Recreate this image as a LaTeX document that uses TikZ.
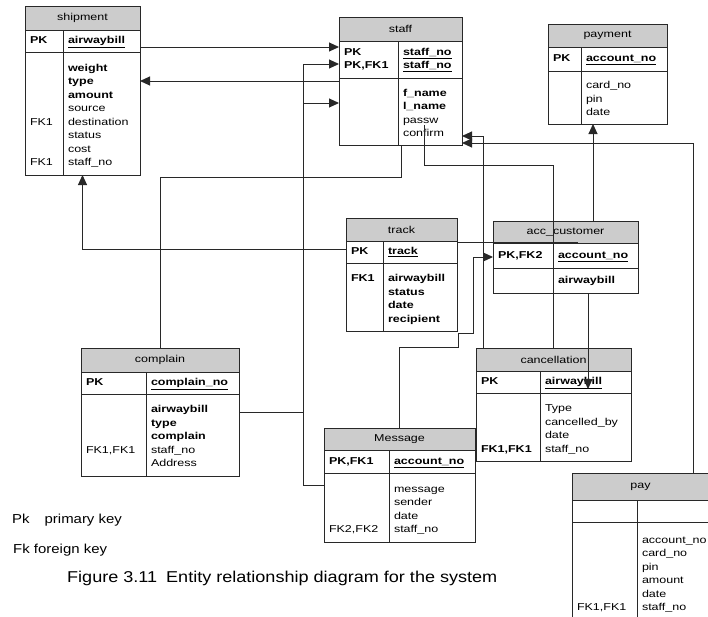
\documentclass[tikz,border=0pt]{standalone}
\usepackage{fontspec}
\setmainfont[FakeStretch=1.25]{Liberation Sans}
\newfontfamily\capfont[FakeStretch=1.15]{Liberation Sans}
\usepackage{tikz}
\usetikzlibrary{arrows.meta, positioning, calc}
\definecolor{hdrgray}{RGB}{204, 204, 204}
\definecolor{linegray}{RGB}{40, 40, 40}

\begin{document}
\begin{tikzpicture}[x=1pt, y=-1pt,
    tbl/.style={draw=linegray, line width=0.8pt, inner sep=0pt, outer sep=0pt,
                anchor=north west, font={\fontsize{10}{13.5}\selectfont}},
    hdr/.style={tbl, fill=hdrgray},
    cell/.style={tbl, inner xsep=5pt, align=left,
                 execute at begin node=\strut, execute at end node=\strut},
    body/.style={tbl, inner xsep=5pt, align=left,
                 execute at begin node={\rule{0pt}{14pt}}, execute at end node=\strut},
    ln/.style={draw=linegray, line width=1pt},
    fk/.style={ln, -{Triangle[length=10pt, width=9pt]}},
    legend/.style={inner sep=0pt, anchor=west, font={\capfont\fontsize{13}{15}\selectfont}}]

  \useasboundingbox (0,0) rectangle (708,616);
  \clip (0,0) rectangle (708,616);

  \node[hdr, minimum width=115pt, minimum height=24pt] (ship) at (25,6) {shipment};
  \node[cell, text width=28pt, minimum height=22pt] (shipk) at (ship.south west) {\textbf{PK}};
  \node[cell, text width=67pt, minimum height=22pt] (shipkf) at (shipk.north east) {\textbf{\underline{airwaybill}}};
  \node[body, text width=28pt, minimum height=123pt] (shipb) at (shipk.south west) {~\\~\\~\\~\\FK1\\~\\~\\FK1};
  \node[body, text width=67pt, minimum height=123pt] (shipbf) at (shipb.north east)
    {\textbf{weight}\\\textbf{type}\\\textbf{amount}\\source\\destination\\status\\cost\\staff\_no};

  \node[hdr, minimum width=123pt, minimum height=24pt] (staff) at (339,17) {staff};
  \node[cell, text width=49pt, minimum height=37pt] (staffk) at (staff.south west) {\textbf{PK}\\\textbf{PK,FK1}};
  \node[cell, text width=54pt, minimum height=37pt] (staffkf) at (staffk.north east)
    {\textbf{\underline{staff\_no}}\\\textbf{\underline{staff\_no}}};
  \node[body, text width=49pt, minimum height=67pt] (staffb) at (staffk.south west) {};
  \node[body, text width=54pt, minimum height=67pt] (staffbf) at (staffb.north east)
    {\textbf{f\_name}\\\textbf{l\_name}\\passw\\confirm};

  \node[hdr, minimum width=119pt, minimum height=23pt] (pmt) at (548,24) {payment};
  \node[cell, text width=23pt, minimum height=24pt] (pmtk) at (pmt.south west) {\textbf{PK}};
  \node[cell, text width=76pt, minimum height=24pt] (pmtkf) at (pmtk.north east) {\textbf{\underline{account\_no}}};
  \node[body, text width=23pt, minimum height=53pt] (pmtb) at (pmtk.south west) {};
  \node[body, text width=76pt, minimum height=53pt] (pmtbf) at (pmtb.north east) {card\_no\\pin\\date};

  \node[hdr, minimum width=111pt, minimum height=23pt] (track) at (346,218) {track};
  \node[cell, text width=27pt, minimum height=22pt] (trackk) at (track.south west) {\textbf{PK}};
  \node[cell, text width=64pt, minimum height=22pt] (trackkf) at (trackk.north east) {\textbf{\underline{track}}};
  \node[body, text width=27pt, minimum height=68pt] (trackb) at (trackk.south west) {\textbf{FK1}\\~\\~\\~};
  \node[body, text width=64pt, minimum height=68pt] (trackbf) at (trackb.north east)
    {\textbf{airwaybill}\\\textbf{status}\\\textbf{date}\\\textbf{recipient}};

  \node[hdr, minimum width=145pt, minimum height=22pt] (acc) at (493,221) {acc\_customer};
  \node[cell, text width=50pt, minimum height=25pt] (acck) at (acc.south west) {\textbf{PK,FK2}};
  \node[cell, text width=75pt, minimum height=25pt] (acckf) at (acck.north east) {\textbf{\underline{account\_no}}};
  \node[cell, text width=50pt, minimum height=25pt] (accb) at (acck.south west) {};
  \node[cell, text width=75pt, minimum height=25pt] (accbf) at (accb.north east) {\textbf{airwaybill}};

  \node[hdr, minimum width=158pt, minimum height=24pt] (cmp) at (81,348) {complain};
  \node[cell, text width=55pt, minimum height=22pt] (cmpk) at (cmp.south west) {\textbf{PK}};
  \node[cell, text width=83pt, minimum height=22pt] (cmpkf) at (cmpk.north east) {\textbf{\underline{complain\_no}}};
  \node[body, text width=55pt, minimum height=82pt] (cmpb) at (cmpk.south west) {~\\~\\~\\FK1,FK1\\~};
  \node[body, text width=83pt, minimum height=82pt] (cmpbf) at (cmpb.north east)
    {\textbf{airwaybill}\\\textbf{type}\\\textbf{complain}\\staff\_no\\Address};

  \node[hdr, minimum width=155pt, minimum height=23pt] (cnc) at (476,348) {cancellation};
  \node[cell, text width=54pt, minimum height=22pt] (cnck) at (cnc.south west) {\textbf{PK}};
  \node[cell, text width=81pt, minimum height=22pt] (cnckf) at (cnck.north east) {\textbf{\underline{airwaybill}}};
  \node[body, text width=54pt, minimum height=68pt] (cncb) at (cnck.south west) {~\\~\\~\\\textbf{FK1,FK1}};
  \node[body, text width=81pt, minimum height=68pt] (cncbf) at (cncb.north east) {Type\\cancelled\_by\\date\\staff\_no};

  \node[hdr, minimum width=151pt, minimum height=22pt] (msg) at (324,428) {Message};
  \node[cell, text width=55pt, minimum height=23pt] (msgk) at (msg.south west) {\textbf{PK,FK1}};
  \node[cell, text width=76pt, minimum height=23pt] (msgkf) at (msgk.north east) {\textbf{\underline{account\_no}}};
  \node[body, text width=55pt, minimum height=69pt] (msgb) at (msgk.south west) {~\\~\\~\\FK2,FK2};
  \node[body, text width=76pt, minimum height=69pt] (msgbf) at (msgb.north east) {message\\sender\\date\\staff\_no};

  \node[hdr, minimum width=137pt, minimum height=27pt] (pay) at (572,473) {pay};
  \node[cell, text width=55pt, minimum height=22pt] (payk) at (pay.south west) {};
  \node[cell, text width=62pt, minimum height=22pt] (paykf) at (payk.north east) {};
  \node[body, text width=55pt, minimum height=100pt] (payb) at (payk.south west) {~\\~\\~\\~\\~\\FK1,FK1};
  \node[body, text width=62pt, minimum height=100pt] (paybf) at (payb.north east)
    {account\_no\\card\_no\\pin\\amount\\date\\staff\_no};

  \draw[fk] ([yshift=-6pt]shipkf.east) -- ([yshift=12.5pt]staffk.west);
  \draw[fk] ([yshift=30.5pt]staffb.west) -- ([yshift=32.5pt]shipbf.east);
  \draw[fk] ([yshift=23pt]cmpbf.east) -- ++(64,0) |- ([yshift=-4.5pt]staffk.west);
  \draw[fk] ([yshift=22.5pt]msgb.west) -- ++(-21,0) |- ([yshift=8.5pt]staffb.west);
  \draw[ln] ([xshift=3pt]staffb.south east) -- ++(0,32) -| (cmp.north);
  \draw[fk] ([yshift=3pt]trackk.west) -| ([xshift=19.5pt]shipb.south east);
  \draw[fk] (msg.north) -- ++(0,-81) -- ++(58.5,0) -- ++(0,-14) -- ++(15,0) |- ([yshift=-1.5pt]acck.west);
  \draw[fk] ([xshift=7pt]cnc.north west) |- ([yshift=-24.5pt]staffbf.east);
  \draw[fk] ([xshift=121pt]pay.north west) |- ([yshift=-31.5pt]staffbf.east);
  \draw[ln] ([xshift=77pt]cnc.north west) -- ++(0,-183) -| ([xshift=-6pt, yshift=-13.5pt]staffbf.center);
  \draw[fk] ([xshift=27.5pt]acc.north) -- ([xshift=-31pt]pmtbf.south);
  \draw[fk] ([xshift=-7.5pt]accbf.south) -- ([xshift=2.5pt, yshift=-7pt]cnckf.center);
  \draw[ln] ([yshift=-1pt]trackkf.north east) -- ([xshift=12.5pt, yshift=1pt]acc.south);

  \node[legend] (pk) at (12,520) {Pk\hspace{15pt}primary key};
  \node[legend] (fkey) at (13,550) {Fk foreign key};
  \node[legend, font={\capfont\fontsize{15.7}{17}\selectfont}] (cap) at (67,578)
    {Figure 3.11\hspace{9pt}Entity relationship diagram for the system};
\end{tikzpicture}
\end{document}
